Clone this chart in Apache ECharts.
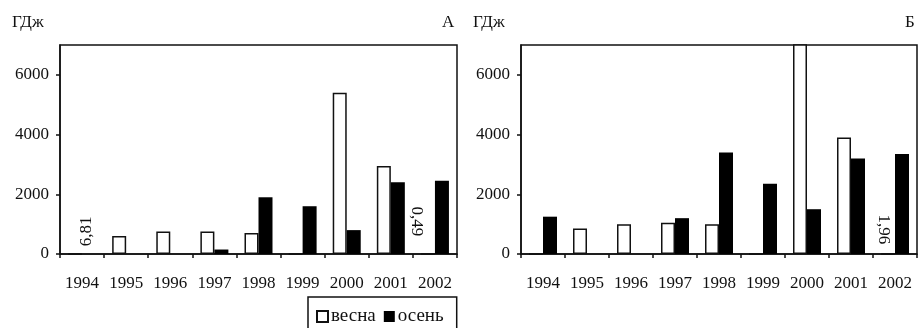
<!DOCTYPE html>
<html>
<head>
<meta charset="utf-8">
<script src="https://cdn.jsdelivr.net/npm/echarts@6/dist/echarts.min.js"></script>
<style>
  html, body { margin: 0; padding: 0; background: #fff; }
  #chart { width: 919px; height: 328px; }
</style>
</head>
<body>
<div id="chart"></div>
<script>
// годы по оси X
var years = ['1994', '1995', '1996', '1997', '1998', '1999', '2000', '2001', '2002'];
// панель А
var springA = [6.81, 600, 750, 750, 700, 0, 5400, 2950, 0.49];
var autumnA = [0, 0, 0, 150, 1900, 1600, 800, 2400, 2450];
// панель Б (2000 весна уходит за верх шкалы)
var springB = [0, 850, 1000, 1050, 1000, 0, 7600, 3900, 1.96];
var autumnB = [1250, 0, 0, 1200, 3400, 2350, 1500, 3200, 3350];
var yTicks = [0, 2000, 4000, 6000];
var seriesNames = ['весна', 'осень'];

var font = 'Liberation Serif';
var ink = '#111';

// подписи маленьких значений (повёрнутые), offset в повёрнутых координатах
var smallLabel = {
  '6.81': { rotate: 90, align: 'left', distance: 7, offset: [0, 11] },
  '0.49': { rotate: -90, align: 'right', distance: 17, offset: [0, 11] },
  '1.96': { rotate: -90, align: 'right', distance: 9, offset: [0, 5] }
};

function barData(values) {
  return values.map(function (v) {
    var s = smallLabel[String(v)];
    if (!s) return v;
    return {
      value: v,
      label: {
        show: true,
        position: 'top',
        rotate: s.rotate,
        align: s.align,
        verticalAlign: 'middle',
        distance: s.distance,
        offset: s.offset,
        formatter: function (p) { return String(p.value).replace('.', ','); },
        color: ink,
        fontFamily: font,
        fontSize: 17
      }
    };
  });
}

var grids = [
  { left: 60, right: 462, top: 45, bottom: 74 },
  { left: 521, right: 2, top: 45, bottom: 74 }
];

function xAxis(i) {
  return {
    type: 'category',
    gridIndex: i,
    data: years,
    axisLine: { lineStyle: { color: ink, width: 1.5 } },
    axisTick: { show: true, length: 4, alignWithLabel: false, lineStyle: { color: ink, width: 1.5 } },
    axisLabel: { color: ink, fontFamily: font, fontSize: 17, margin: 21, interval: 0 }
  };
}

function yAxis(i) {
  return {
    type: 'value',
    gridIndex: i,
    min: 0,
    max: 7000,
    interval: 2000,
    axisLine: { show: true, lineStyle: { color: ink, width: 1.5 } },
    axisTick: { show: true, length: 4, lineStyle: { color: ink, width: 1.5 } },
    splitLine: { show: false },
    axisLabel: {
      color: ink, fontFamily: font, fontSize: 17, margin: 11,
      showMaxLabel: false,
      formatter: function (v) { return yTicks.indexOf(v) >= 0 ? String(v) : ''; }
    }
  };
}

var springStyle = { color: '#fff', borderColor: ink, borderWidth: 1.5 };
var autumnStyle = { color: '#000', borderColor: '#000', borderWidth: 0 };

function bars(name, values, i, style) {
  return {
    name: name,
    type: 'bar',
    xAxisIndex: i,
    yAxisIndex: i,
    barWidth: 14,
    barGap: '0%',
    clip: true,
    itemStyle: style,
    data: barData(values)
  };
}

var titleText = { fontFamily: font, fontSize: 17, fontWeight: 'normal', color: ink };

var chart = echarts.init(document.getElementById('chart'), null, { renderer: 'canvas' });
chart.setOption({
  backgroundColor: '#fff',
  animation: false,
  textStyle: { fontFamily: font, color: ink },
  title: [
    { text: 'ГДж', left: 12, top: 14, padding: 0, textStyle: titleText },
    { text: 'А', left: 442, top: 14, padding: 0, textStyle: titleText },
    { text: 'ГДж', left: 473, top: 14, padding: 0, textStyle: titleText },
    { text: 'Б', left: 905, top: 14, padding: 0, textStyle: titleText }
  ],
  legend: {
    data: seriesNames,
    left: 308,
    top: 297,
    padding: [10, 13, 14, 8],
    borderColor: ink,
    borderWidth: 1.5,
    itemWidth: 11,
    itemHeight: 11,
    itemGap: 8,
    icon: 'rect',
    textStyle: { fontFamily: font, fontSize: 19, color: ink, padding: [0, 0, 0, -2] }
  },
  grid: grids.map(function (g) {
    return Object.assign({ show: true, borderColor: ink, borderWidth: 1.5, backgroundColor: 'transparent' }, g);
  }),
  xAxis: [xAxis(0), xAxis(1)],
  yAxis: [yAxis(0), yAxis(1)],
  series: [
    bars(seriesNames[0], springA, 0, springStyle),
    bars(seriesNames[1], autumnA, 0, autumnStyle),
    bars(seriesNames[0], springB, 1, springStyle),
    bars(seriesNames[1], autumnB, 1, autumnStyle)
  ]
});
</script>
</body>
</html>
